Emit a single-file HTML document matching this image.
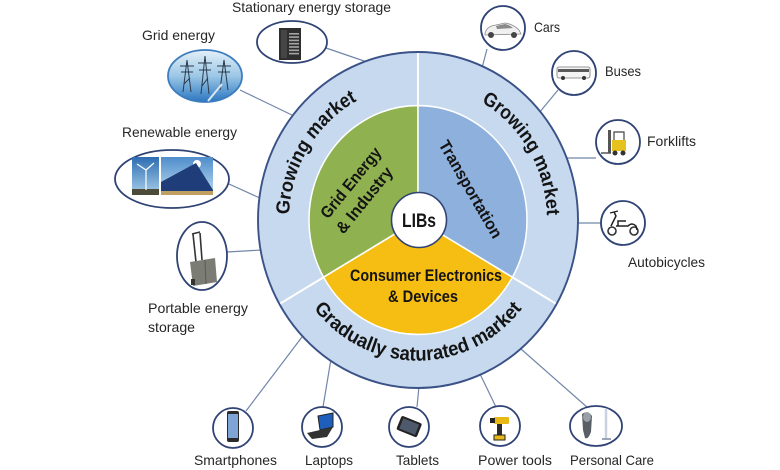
<!DOCTYPE html>
<html><head><meta charset="utf-8">
<style>
html,body{margin:0;padding:0;background:#fff;}
svg{display:block;}
text{font-family:"Liberation Sans",sans-serif;}
.lbl{font-size:14px;fill:#262626;}
.ring{font-size:19px;font-weight:bold;fill:#141414;}
.sec{font-size:16.5px;font-weight:bold;fill:#141414;}
.node{fill:#fff;stroke:#2f4374;stroke-width:1.8;}
.con{stroke:#7186aa;stroke-width:1.2;fill:none;}
</style></head><body>
<svg width="780" height="470" viewBox="0 0 780 470" xmlns="http://www.w3.org/2000/svg">
<defs>
 <linearGradient id="gridg" x1="0" y1="0" x2="0" y2="1">
  <stop offset="0" stop-color="#e3f0f8"/>
  <stop offset="0.5" stop-color="#9cc7e6"/>
  <stop offset="1" stop-color="#2b76c0"/>
 </linearGradient>
 <linearGradient id="sky1" x1="0" y1="0" x2="0" y2="1">
  <stop offset="0" stop-color="#2e6db2"/>
  <stop offset="1" stop-color="#a8cfea"/>
 </linearGradient>
 <linearGradient id="sky2" x1="0" y1="0" x2="0" y2="1">
  <stop offset="0" stop-color="#4f8dcb"/>
  <stop offset="1" stop-color="#bddcf1"/>
 </linearGradient>
</defs>

<!-- connectors -->
<g class="con">
 <line x1="326" y1="48" x2="367" y2="62"/>
 <line x1="240" y1="90" x2="294" y2="116"/>
 <line x1="229" y1="184" x2="262" y2="199"/>
 <line x1="227" y1="252" x2="262" y2="250"/>
 <line x1="487" y1="49" x2="482" y2="68"/>
 <line x1="558" y1="90" x2="539" y2="113"/>
 <line x1="596" y1="158" x2="565" y2="158"/>
 <line x1="601" y1="223" x2="576" y2="223"/>
 <line x1="246" y1="411" x2="305" y2="333"/>
 <line x1="323" y1="407" x2="331" y2="359"/>
 <line x1="417" y1="407" x2="419" y2="386"/>
 <line x1="496" y1="407" x2="480" y2="374"/>
 <line x1="588" y1="408" x2="521" y2="349"/>
</g>

<!-- main ring -->
<g transform="translate(418,220) scale(1,1.05)">
 <circle r="160" fill="#c6d9ef" stroke="#3a5287" stroke-width="1.9"/>
 <path d="M0 0 L-94.4 54.5 A109 109 0 0 1 0 -109 Z" fill="#8fb14f" stroke="#fff" stroke-width="1.5"/>
 <path d="M0 0 L0 -109 A109 109 0 0 1 94.4 54.5 Z" fill="#8db0dd" stroke="#fff" stroke-width="1.5"/>
 <path d="M0 0 L94.4 54.5 A109 109 0 0 1 -94.4 54.5 Z" fill="#f6bd12" stroke="#fff" stroke-width="1.5"/>
 <g stroke="#fff" stroke-width="2">
  <line x1="0" y1="-109" x2="0" y2="-159"/>
  <line x1="94.4" y1="54.5" x2="137.7" y2="79.5"/>
  <line x1="-94.4" y1="54.5" x2="-137.7" y2="79.5"/>
 </g>
 <path id="arcL" d="M -122.7 39.9 A 129 129 0 0 1 -18 -127.7" fill="none"/>
 <path id="arcR" d="M 20.2 -127.4 A 129 129 0 0 1 122.3 41.1" fill="none"/>
 <path id="arcB" d="M -116 67 A 134 134 0 0 0 116 67" fill="none"/>
 <text class="ring"><textPath href="#arcL" startOffset="50%" text-anchor="middle" textLength="134" lengthAdjust="spacingAndGlyphs">Growing market</textPath></text>
 <text class="ring"><textPath href="#arcR" startOffset="50%" text-anchor="middle" textLength="132" lengthAdjust="spacingAndGlyphs">Growing market</textPath></text>
 <text class="ring"><textPath href="#arcB" startOffset="50%" text-anchor="middle" textLength="238" lengthAdjust="spacingAndGlyphs">Gradually saturated market</textPath></text>
</g>

<!-- sector labels -->
<g transform="translate(357,191) rotate(-51)">
 <text class="sec" x="2.5" y="-4.5" text-anchor="middle" textLength="86" lengthAdjust="spacingAndGlyphs">Grid Energy</text>
 <text class="sec" x="-2.5" y="17" text-anchor="middle" textLength="80" lengthAdjust="spacingAndGlyphs">&amp; Industry</text>
</g>
<g transform="translate(471,189) rotate(60)">
 <text class="sec" x="0" y="6" text-anchor="middle" textLength="110" lengthAdjust="spacingAndGlyphs">Transportation</text>
</g>
<text class="sec" x="426" y="281" text-anchor="middle" textLength="152" lengthAdjust="spacingAndGlyphs">Consumer Electronics</text>
<text class="sec" x="423" y="302" text-anchor="middle" textLength="70" lengthAdjust="spacingAndGlyphs">&amp; Devices</text>

<!-- LIBs -->
<circle cx="419" cy="220" r="27.5" fill="#fff" stroke="#2f4374" stroke-width="1.6"/>
<text x="419" y="227" text-anchor="middle" font-size="19" font-weight="bold" fill="#141414" textLength="34" lengthAdjust="spacingAndGlyphs">LIBs</text>

<!-- Stationary -->
<ellipse class="node" cx="292" cy="42" rx="35" ry="21"/>
<rect x="279" y="28" width="22" height="32" fill="#2e2e2e"/>
<g fill="#a5a5a5">
 <rect x="289" y="33" width="10" height="1.6"/><rect x="289" y="36.3" width="10" height="1.6"/>
 <rect x="289" y="39.6" width="10" height="1.6"/><rect x="289" y="42.9" width="10" height="1.6"/>
 <rect x="289" y="46.2" width="10" height="1.6"/><rect x="289" y="49.5" width="10" height="1.6"/>
 <rect x="289" y="52.8" width="10" height="1.6"/>
</g>
<rect x="281" y="30" width="6" height="28" fill="#454545"/>

<!-- Grid energy -->
<ellipse cx="205" cy="76" rx="37" ry="26" fill="url(#gridg)" stroke="#3d7dbf" stroke-width="1.8"/>
<g stroke="#2a3a4c" stroke-width="1" fill="none">
 <path d="M183 92 L187 60 L191 92 M180 66 L194 66 M181 72 L193 72 M184 84 L190 78"/>
 <path d="M201 94 L205 56 L209 94 M198 63 L212 63 M199 70 L211 70 M202 86 L208 78"/>
 <path d="M220 90 L224 60 L228 90 M217 66 L231 66 M218 72 L230 72"/>
</g>
<path d="M208 101 L222 84" stroke="#d9e8f2" stroke-width="2"/>

<!-- Renewable -->
<ellipse class="node" cx="172" cy="179" rx="57" ry="29"/>
<rect x="132" y="157" width="27" height="38" fill="url(#sky1)"/>
<rect x="132" y="189" width="27" height="6" fill="#4c4a38"/>
<path d="M146 190 L146 170 M146 170 L137 164 M146 170 L154 163 M146 170 L146 180" stroke="#fff" stroke-width="1.2"/>
<rect x="161" y="157" width="52" height="38" fill="url(#sky2)"/>
<circle cx="197" cy="164" r="4" fill="#fff"/>
<path d="M161 195 L161 182 L196 163 L213 190 L213 195 Z" fill="#1f3d78"/>
<rect x="161" y="191" width="52" height="4" fill="#c0a060"/>

<!-- Portable -->
<ellipse class="node" cx="202" cy="256" rx="25" ry="34"/>
<path d="M193 234 L196 262 M200 233 L202 260 M192 234 L200 232" stroke="#333" stroke-width="1.6" fill="none"/>
<path d="M190 262 L215 258 L217 282 L193 286 Z" fill="#7b7d74"/>
<path d="M205 260 L206 284" stroke="#5a5c55" stroke-width="1"/>
<rect x="191" y="279" width="4" height="6" fill="#333"/>

<!-- Cars -->
<circle class="node" cx="503" cy="28" r="22"/>
<path d="M485 33 Q487 26 496 25 L505 23 Q513 24 519 30 L521 34 L485 35 Z" fill="#f0f0f0" stroke="#8a8a8a" stroke-width="0.8"/>
<path d="M496 26 L505 24 Q510 25 513 28 L497 29 Z" fill="#8a8a8a"/>
<circle cx="491" cy="35" r="3" fill="#444"/><circle cx="514" cy="35" r="3" fill="#444"/>

<!-- Buses -->
<circle class="node" cx="574" cy="73" r="22"/>
<rect x="557" y="67" width="33" height="11" rx="2" fill="#f4f4f4" stroke="#777" stroke-width="0.8"/>
<rect x="558" y="69" width="31" height="3" fill="#5a5a5a"/>
<circle cx="563" cy="78" r="2" fill="#333"/><circle cx="584" cy="78" r="2" fill="#333"/>

<!-- Forklifts -->
<circle class="node" cx="618" cy="142" r="22"/>
<rect x="608" y="130" width="3" height="23" fill="#555"/>
<rect x="612" y="140" width="14" height="11" fill="#e6c21f"/>
<path d="M614 140 L614 132 L624 132 L624 140" stroke="#444" stroke-width="1.2" fill="none"/>
<path d="M601 153 L611 153" stroke="#555" stroke-width="1.5"/>
<circle cx="615" cy="153" r="2.5" fill="#333"/><circle cx="623" cy="153" r="2.5" fill="#333"/>

<!-- Autobicycles -->
<circle class="node" cx="623" cy="223" r="22"/>
<circle cx="612" cy="231" r="4" fill="#fff" stroke="#333" stroke-width="1.6"/>
<circle cx="634" cy="231" r="4" fill="#fff" stroke="#333" stroke-width="1.6"/>
<path d="M611 226 L616 216 L614 212 M616 226 L628 226 Q632 222 636 226 L637 230 M618 226 L618 221 L626 221" stroke="#222" stroke-width="1.5" fill="none"/>
<path d="M610 213 L618 211" stroke="#222" stroke-width="1.4"/>

<!-- Smartphones -->
<circle class="node" cx="233" cy="428" r="20"/>
<rect x="227" y="411" width="12" height="31" rx="2" fill="#2a2a2a"/>
<rect x="228" y="414" width="10" height="24" fill="#7fa4d6"/>

<!-- Laptops -->
<circle class="node" cx="322" cy="427" r="20"/>
<path d="M318 416 L333 413 L333 427 L320 430 Z" fill="#1d5fbb" stroke="#222" stroke-width="1"/>
<path d="M307 433 L320 430 L333 427 L327 437 L312 439 Z" fill="#333"/>

<!-- Tablets -->
<circle class="node" cx="409" cy="427" r="20"/>
<g transform="rotate(22 409 427)">
 <rect x="398" y="419" width="22" height="15" rx="2" fill="#222"/>
 <rect x="400.5" y="421" width="17" height="11" fill="#4e5a6c"/>
</g>

<!-- Power tools -->
<circle class="node" cx="500" cy="426" r="20"/>
<rect x="494" y="417" width="15" height="7" rx="1" fill="#e8b817"/>
<rect x="490" y="418" width="5" height="5" fill="#222"/>
<rect x="497" y="424" width="5" height="11" fill="#2a2a2a"/>
<rect x="494" y="435" width="11" height="5" fill="#e8b817" stroke="#222" stroke-width="1"/>

<!-- Personal Care -->
<ellipse class="node" cx="596" cy="426" rx="26" ry="20"/>
<path d="M582 414 Q588 410 592 416 L591 432 Q588 440 585 438 L583 430 Z" fill="#5a5e66"/>
<ellipse cx="587" cy="417" rx="4" ry="5" fill="#9aa0a8"/>
<path d="M606 409 L606 438" stroke="#c8d2e0" stroke-width="2.5"/>
<path d="M602 439 L611 439" stroke="#9aa6b8" stroke-width="2"/>

<!-- labels -->
<text class="lbl" x="232" y="12" textLength="159" lengthAdjust="spacingAndGlyphs">Stationary energy storage</text>
<text class="lbl" x="142" y="40" textLength="73" lengthAdjust="spacingAndGlyphs">Grid energy</text>
<text class="lbl" x="122" y="137" textLength="115" lengthAdjust="spacingAndGlyphs">Renewable energy</text>
<text class="lbl" x="148" y="313" textLength="100" lengthAdjust="spacingAndGlyphs">Portable energy</text>
<text class="lbl" x="148" y="332" textLength="47" lengthAdjust="spacingAndGlyphs">storage</text>
<text class="lbl" x="534" y="32" textLength="26" lengthAdjust="spacingAndGlyphs">Cars</text>
<text class="lbl" x="605" y="76" textLength="36" lengthAdjust="spacingAndGlyphs">Buses</text>
<text class="lbl" x="647" y="146" textLength="49" lengthAdjust="spacingAndGlyphs">Forklifts</text>
<text class="lbl" x="628" y="267" textLength="77" lengthAdjust="spacingAndGlyphs">Autobicycles</text>
<text class="lbl" x="194" y="465" textLength="83" lengthAdjust="spacingAndGlyphs">Smartphones</text>
<text class="lbl" x="305" y="465" textLength="48" lengthAdjust="spacingAndGlyphs">Laptops</text>
<text class="lbl" x="396" y="465" textLength="43" lengthAdjust="spacingAndGlyphs">Tablets</text>
<text class="lbl" x="478" y="465" textLength="74" lengthAdjust="spacingAndGlyphs">Power tools</text>
<text class="lbl" x="570" y="465" textLength="84" lengthAdjust="spacingAndGlyphs">Personal Care</text>
</svg>
</body></html>
